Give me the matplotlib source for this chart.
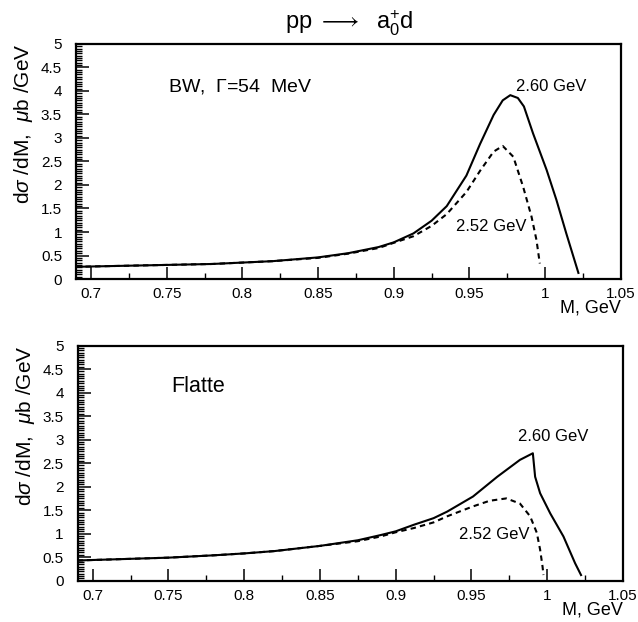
import matplotlib
matplotlib.use("Agg")
import matplotlib.pyplot as plt
from matplotlib.ticker import MultipleLocator

plt.rcParams['font.family'] = ['Liberation Sans', 'DejaVu Sans']
plt.rcParams['mathtext.fontset'] = 'custom'
plt.rcParams['mathtext.rm'] = 'Liberation Sans'
plt.rcParams['mathtext.it'] = 'Liberation Sans:italic'
plt.rcParams['mathtext.sf'] = 'Liberation Sans'

# ---- data: BW (top) ----
bw_x_260 = [0.69, 0.72, 0.75, 0.78, 0.80, 0.82, 0.85, 0.87, 0.89, 0.90, 0.913, 0.925,
            0.935, 0.948, 0.957, 0.966, 0.972, 0.977, 0.982, 0.986, 0.992, 1.001,
            1.0075, 1.014, 1.018, 1.022]
bw_y_260 = [0.26, 0.28, 0.30, 0.32, 0.35, 0.38, 0.46, 0.55, 0.68, 0.78, 0.97, 1.24,
            1.55, 2.20, 2.87, 3.49, 3.80, 3.91, 3.85, 3.67, 3.10, 2.32,
            1.68, 0.97, 0.55, 0.13]
bw_x_252 = [0.69, 0.72, 0.75, 0.78, 0.80, 0.82, 0.85, 0.87, 0.89, 0.90, 0.913, 0.925,
            0.935, 0.948, 0.957, 0.966, 0.972, 0.979, 0.9855, 0.991, 0.9943, 0.9965]
bw_y_252 = [0.26, 0.28, 0.30, 0.32, 0.35, 0.38, 0.45, 0.54, 0.66, 0.77, 0.91, 1.13,
            1.38, 1.85, 2.30, 2.71, 2.83, 2.60, 1.96, 1.33, 0.83, 0.33]

# ---- data: Flatte (bottom) ----
fl_x_260 = [0.69, 0.72, 0.75, 0.78, 0.80, 0.82, 0.85, 0.875, 0.89, 0.90, 0.912, 0.925,
            0.934, 0.951, 0.967, 0.982, 0.9905, 0.992, 0.9953, 1.002, 1.0107, 1.0184, 1.0223]
fl_y_260 = [0.43, 0.46, 0.49, 0.54, 0.58, 0.63, 0.74, 0.86, 0.97, 1.05, 1.19, 1.33,
            1.47, 1.79, 2.21, 2.57, 2.71, 2.21, 1.86, 1.43, 0.94, 0.37, 0.12]
fl_x_252 = [0.69, 0.72, 0.75, 0.78, 0.80, 0.82, 0.85, 0.875, 0.89, 0.90, 0.912, 0.925,
            0.934, 0.951, 0.962, 0.973, 0.982, 0.9887, 0.9931, 0.9953, 0.9969, 0.9975]
fl_y_252 = [0.43, 0.46, 0.49, 0.54, 0.58, 0.63, 0.74, 0.84, 0.94, 1.03, 1.12, 1.24,
            1.37, 1.58, 1.70, 1.75, 1.64, 1.37, 1.02, 0.66, 0.30, 0.12]

x_ticks = [0.7, 0.75, 0.8, 0.85, 0.9, 0.95, 1.0, 1.05]
x_tick_labels = ['0.7', '0.75', '0.8', '0.85', '0.9', '0.95', '1', '1.05']
y_ticks = [0, 0.5, 1, 1.5, 2, 2.5, 3, 3.5, 4, 4.5, 5]
y_tick_labels = ['0', '0.5', '1', '1.5', '2', '2.5', '3', '3.5', '4', '4.5', '5']

fig = plt.figure(figsize=(6.38, 6.22), dpi=100)
ax1 = fig.add_axes([0.119, 0.5514, 0.854, 0.378])
ax2 = fig.add_axes([0.1215, 0.0664, 0.855, 0.378])

panels = [
    (ax1, bw_x_260, bw_y_260, bw_x_252, bw_y_252,
     ('BW,  $\\Gamma$=54  MeV', 0.751, 4.1, 14), (0.981, 4.09), (0.9414, 1.11)),
    (ax2, fl_x_260, fl_y_260, fl_x_252, fl_y_252,
     ('Flatte', 0.752, 4.13, 15.5), (0.981, 3.06), (0.942, 0.99)),
]

for ax, xs, ys, xd, yd, lab, p260, p252 in panels:
    ax.plot(xs, ys, color='black', lw=1.5, solid_joinstyle='round')
    ax.plot(xd, yd, color='black', lw=1.5, linestyle=(0, (2.6, 2.0)))
    ax.set_xlim(0.69, 1.05)
    ax.set_ylim(0, 5)
    ax.set_xticks(x_ticks)
    ax.set_xticklabels(x_tick_labels)
    ax.set_yticks(y_ticks)
    ax.set_yticklabels(y_tick_labels)
    ax.xaxis.set_minor_locator(MultipleLocator(0.025))
    ax.yaxis.set_minor_locator(MultipleLocator(0.05))
    ax.tick_params(which='major', direction='in', length=9, width=1.1,
                   labelsize=11, top=False, right=False)
    ax.tick_params(which='minor', direction='in', length=4, width=1.0,
                   top=False, right=False)
    ax.tick_params(axis='y', which='major', pad=10)
    ax.tick_params(axis='x', which='major', pad=6)
    for s in ax.spines.values():
        s.set_linewidth(1.6)
    ax.set_ylabel('d$\\sigma$ /dM,  $\\mu$b /GeV', fontsize=15, loc='top', labelpad=4)
    ax.set_xlabel('M, GeV', fontsize=13, loc='right', labelpad=-1)
    ax.text(lab[1], lab[2], lab[0], fontsize=lab[3], ha='left', va='center')
    ax.text(p260[0], p260[1], '2.60 GeV', fontsize=12, ha='left', va='center')
    ax.text(p252[0], p252[1], '2.52 GeV', fontsize=12, ha='left', va='center')

fig.text(0.548, 1 - 23 / 622, 'pp $\\longrightarrow$  a$_0^{+}$d', fontsize=17,
         ha='center', va='center')

fig.savefig('out.png', dpi=100)
